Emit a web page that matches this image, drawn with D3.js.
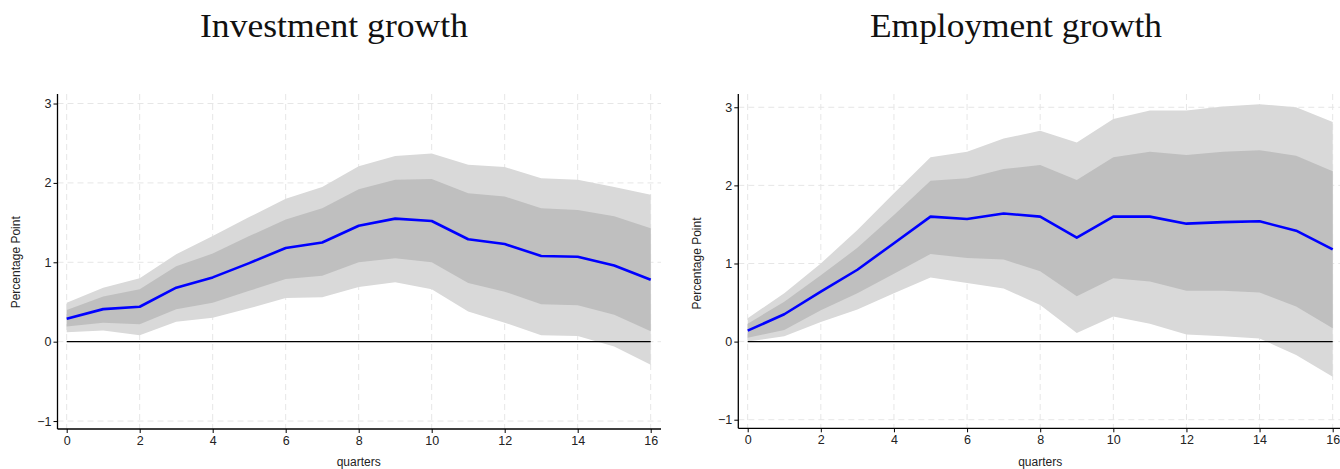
<!DOCTYPE html>
<html><head><meta charset="utf-8">
<script src="https://cdn.jsdelivr.net/npm/d3@7"></script>
<style>body{margin:0;background:#fff}svg{display:block}</style>
</head><body>
<svg id="c" width="1340" height="469"></svg>
<script>
const quarters = d3.range(0, 17);
const xTicks = [0, 2, 4, 6, 8, 10, 12, 14, 16];
const yTicks = [-1, 0, 1, 2, 3];

// Investment growth
const invLine   = [0.29,0.41,0.44,0.68,0.81,0.99,1.18,1.25,1.46,1.55,1.52,1.29,1.23,1.08,1.07,0.96,0.78];
const invInnerU = [0.40,0.57,0.66,0.95,1.11,1.33,1.54,1.68,1.92,2.04,2.05,1.87,1.83,1.68,1.66,1.58,1.43];
const invInnerL = [0.19,0.24,0.22,0.41,0.49,0.64,0.79,0.83,1.00,1.05,1.00,0.74,0.63,0.47,0.46,0.34,0.13];
const invOuterU = [0.49,0.68,0.80,1.10,1.33,1.57,1.80,1.95,2.21,2.34,2.37,2.23,2.20,2.06,2.04,1.95,1.85];
const invOuterL = [0.12,0.14,0.08,0.25,0.30,0.42,0.55,0.56,0.69,0.75,0.66,0.38,0.24,0.08,0.07,-0.06,-0.29];

// Employment growth
const empLine   = [0.14,0.35,0.64,0.92,1.26,1.60,1.57,1.64,1.60,1.33,1.60,1.60,1.51,1.53,1.54,1.42,1.18];
const empInnerU = [0.23,0.51,0.85,1.20,1.62,2.06,2.09,2.21,2.26,2.07,2.36,2.43,2.39,2.43,2.45,2.38,2.18];
const empInnerL = [0.05,0.15,0.40,0.62,0.87,1.12,1.07,1.05,0.90,0.58,0.81,0.77,0.65,0.65,0.63,0.45,0.17];
const empOuterU = [0.30,0.62,1.00,1.43,1.90,2.36,2.43,2.60,2.70,2.55,2.85,2.96,2.96,3.01,3.04,3.00,2.81];
const empOuterL = [0.00,0.07,0.25,0.41,0.62,0.82,0.75,0.68,0.47,0.11,0.32,0.23,0.09,0.07,0.04,-0.17,-0.45];

const svg = d3.select("#c");

const panels = [
  {title:"Investment growth", tx:334, tw:268, line:invLine, iu:invInnerU, il:invInnerL, ou:invOuterU, ol:invOuterL,
   x0:57.5, x1:661, xr:[66.7,650.7], ydom:[-1.10,3.12], yr:[429,94], ylabX:16},
  {title:"Employment growth", tx:1016, tw:292, line:empLine, iu:empInnerU, il:empInnerL, ou:empOuterU, ol:empOuterL,
   x0:738.3, x1:1340, xr:[747.7,1332.7], ydom:[-1.11,3.17], yr:[428.3,94], ylabX:697}
];

const sans = "Liberation Sans, Arial, sans-serif";

panels.forEach(p => {
  const x = d3.scaleLinear().domain([0,16]).range(p.xr);
  const y = d3.scaleLinear().domain(p.ydom).range(p.yr);
  const g = svg.append("g");
  const bottom = p.yr[0];

  // grid
  g.selectAll(".hg").data(yTicks).join("line")
    .attr("x1", p.x0).attr("x2", p.x1)
    .attr("y1", d => y(d)).attr("y2", d => y(d))
    .attr("stroke", "#e6e6e6").attr("stroke-width", 1).attr("stroke-dasharray", "6,4");
  g.selectAll(".vg").data(xTicks).join("line")
    .attr("x1", d => x(d)).attr("x2", d => x(d))
    .attr("y1", p.yr[1]).attr("y2", bottom)
    .attr("stroke", "#e6e6e6").attr("stroke-width", 1).attr("stroke-dasharray", "6,4");

  const area = (up, lo) => d3.area().x((d,i) => x(quarters[i])).y0((d,i) => y(lo[i])).y1((d,i) => y(up[i]))(quarters);
  g.append("path").attr("d", area(p.ou, p.ol)).attr("fill", "#d9d9d9");
  g.append("path").attr("d", area(p.iu, p.il)).attr("fill", "#bfbfbf");

  // zero line
  g.append("line").attr("x1", x(0)).attr("x2", x(16)).attr("y1", y(0)).attr("y2", y(0))
    .attr("stroke", "#000").attr("stroke-width", 1.2);

  // IRF line
  g.append("path").datum(p.line)
    .attr("d", d3.line().x((d,i) => x(quarters[i])).y(d => y(d)))
    .attr("fill", "none").attr("stroke", "#0000ff").attr("stroke-width", 2.6).attr("stroke-linejoin", "round");

  // axes
  const ya = g.append("g").attr("transform", `translate(${p.x0},0)`)
    .call(d3.axisLeft(y).tickValues(yTicks).tickSize(4).tickPadding(2).tickFormat(d3.format("d")));
  ya.select(".domain").remove();
  ya.append("line").attr("x1",0).attr("x2",0).attr("y1",p.yr[1]).attr("y2",bottom).attr("stroke","#000").attr("stroke-width",1.3);
  ya.selectAll("text").attr("font-family",sans).attr("font-size",12.5).attr("fill","#222");

  const xa = g.append("g").attr("transform", `translate(0,${bottom})`)
    .call(d3.axisBottom(x).tickValues(xTicks).tickSize(4).tickPadding(3).tickFormat(d3.format("d")));
  xa.select(".domain").remove();
  xa.append("line").attr("x1",p.x0).attr("x2",p.x1).attr("y1",0).attr("y2",0).attr("stroke","#000").attr("stroke-width",1.3);
  xa.selectAll("text").attr("font-family",sans).attr("font-size",12.5).attr("fill","#222");

  // labels
  g.append("text").attr("x", (p.xr[0]+p.xr[1])/2).attr("y", 466)
    .attr("text-anchor","middle").attr("font-family",sans).attr("font-size",12).attr("fill","#222")
    .text("quarters");
  g.append("text").attr("transform", `translate(${p.ylabX},${y(1.0)}) rotate(-90)`)
    .attr("text-anchor","middle").attr("dy","0.35em").attr("font-family",sans).attr("font-size",12).attr("fill","#222")
    .text("Percentage Point");

  g.append("text").attr("x", p.tx).attr("y", 37)
    .attr("text-anchor","middle").attr("font-family","Liberation Serif, DejaVu Serif, serif").attr("font-size",34).attr("fill","#111")
    .attr("textLength", p.tw).attr("lengthAdjust","spacingAndGlyphs")
    .text(p.title);
});
</script>
</body></html>
